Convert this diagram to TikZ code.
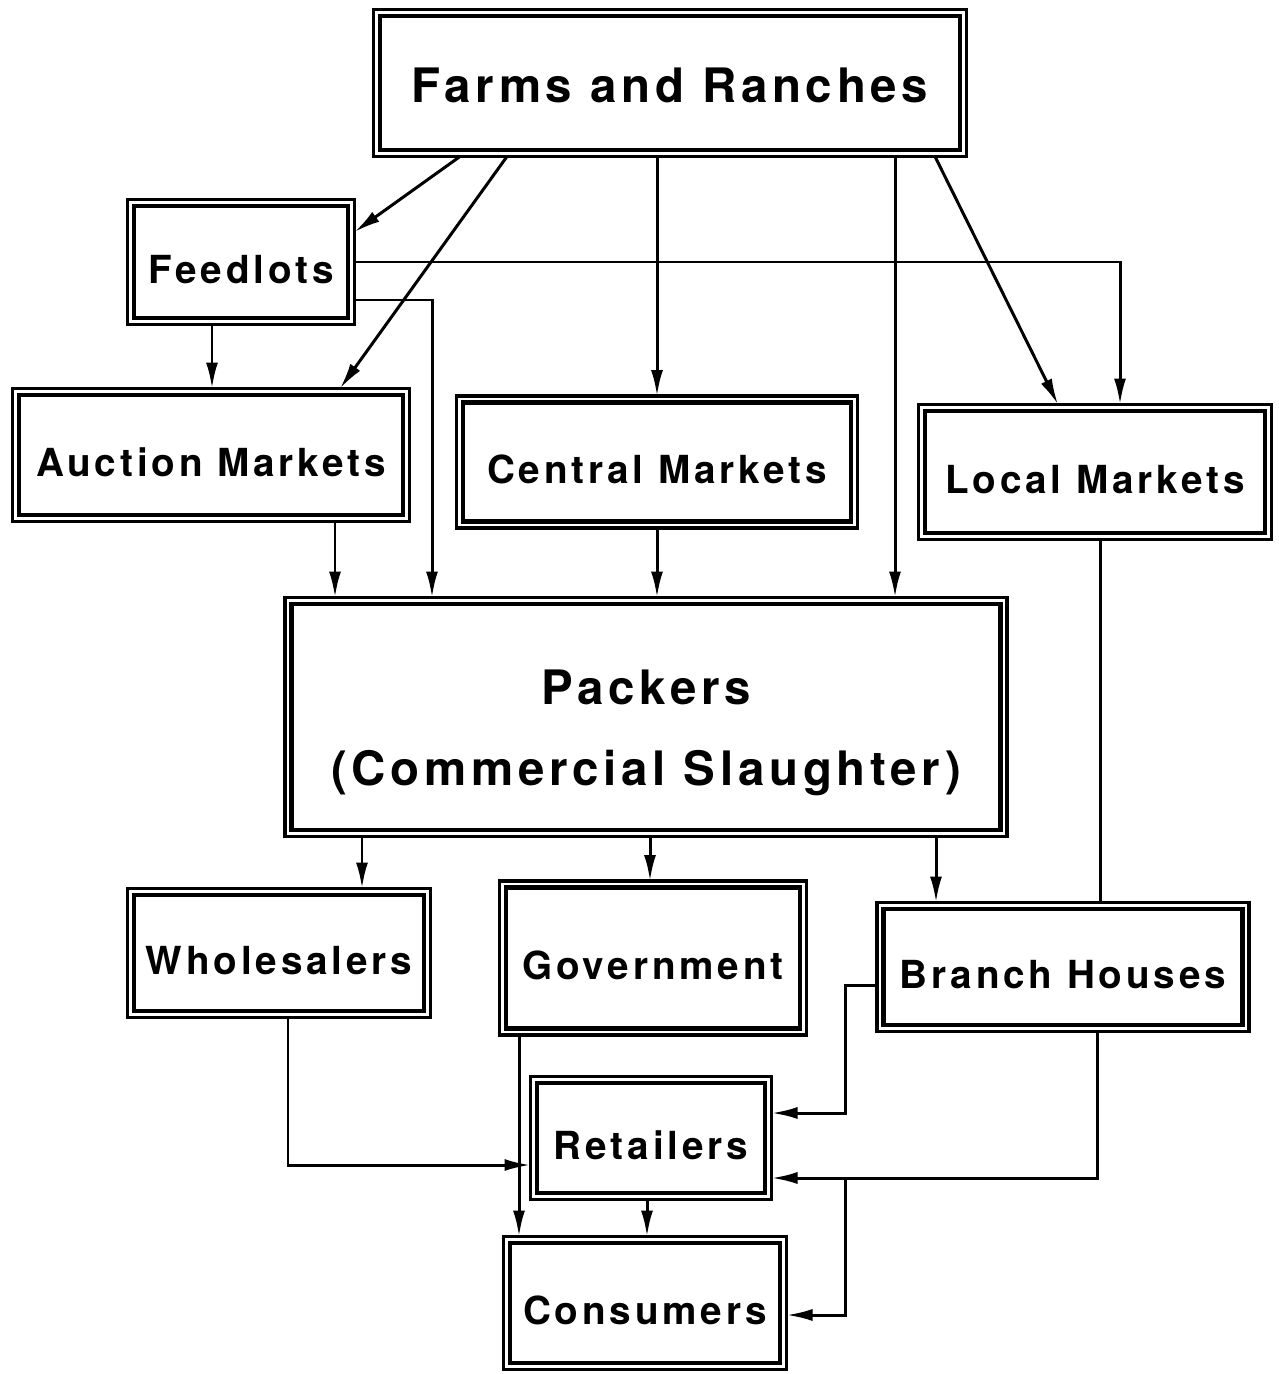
\documentclass[tikz,border=0pt]{standalone}
\usepackage{fontspec}
\setmainfont{TeX Gyre Heros}[LetterSpace=10]
\usetikzlibrary{arrows.meta}
\tikzset{
  box/.style={draw, line width=1.4pt, outer sep=0.065cm, align=center,
    text height=12.5pt, text depth=0pt,
    font=\fontsize{11}{13}\selectfont\bfseries},
  bigbox/.style={box, font=\fontsize{13.5}{23}\selectfont\bfseries},
  outerframe/.style={line width=0.9pt},
  wire/.style={line width=0.85pt},
  link/.style={wire, -{Latex[length=2.6mm,width=1.2mm]}}
}

\begin{document}
\begin{tikzpicture}
\useasboundingbox (0,0) rectangle (12.78,-13.74);
\node[bigbox, text height=10.9pt, minimum width=5.8cm, minimum height=1.34cm] (farms) at (6.70,-0.83) {Farms and Ranches};
\node[box, minimum width=2.14cm, minimum height=1.12cm] (feed) at (2.41,-2.62) {Feedlots};
\node[box, minimum width=3.84cm, minimum height=1.2cm] (auction) at (2.11,-4.55) {Auction Markets};
\node[box, minimum width=3.88cm, minimum height=1.19cm] (central) at (6.57,-4.62) {Central Markets};
\node[box, minimum width=3.4cm, minimum height=1.22cm] (local) at (10.95,-4.72) {Local Markets};
\node[bigbox, text height=38.7pt, text depth=0pt, minimum width=7.09cm, minimum height=2.26cm] (packers) at (6.46,-7.17) {Packers\\(Commercial Slaughter)};
\node[box, minimum width=2.9cm, minimum height=1.16cm] (whole) at (2.79,-9.53) {Wholesalers};
\node[box, minimum width=2.94cm, minimum height=1.41cm] (gov) at (6.53,-9.58) {Government};
\node[box, minimum width=3.59cm, minimum height=1.16cm] (branch) at (10.63,-9.67) {Branch Houses};
\node[box, minimum width=2.28cm, minimum height=1.1cm] (retail) at (6.51,-11.38) {Retailers};
\node[box, minimum width=2.7cm, minimum height=1.2cm] (cons) at (6.45,-13.03) {Consumers};
\foreach \n in {farms,feed,auction,central,local,packers,whole,gov,branch,retail,cons}
  \draw[outerframe] (\n.north west) rectangle (\n.south east);

\draw[link] ([xshift=-2.1cm]farms.south) -- ([yshift=0.3cm]feed.east);
\draw[link] ([xshift=-1.63cm]farms.south) -- ([xshift=1.29cm]auction.north);
\draw[link] (farms.south -| central.north) -- (central.north);
\draw[link] ([xshift=2.49cm]packers.north |- farms.south) -- ([xshift=2.49cm]packers.north);
\draw[link] ([xshift=2.65cm]farms.south) -- ([xshift=-0.37cm]local.north);
\draw[link] (feed.east) -| ([xshift=0.25cm]local.north);
\draw[link] ([yshift=-0.38cm]feed.east) -| ([xshift=-2.14cm]packers.north);
\draw[link] ([xshift=-0.29cm]feed.south) -- ([xshift=-0.29cm]feed.south |- auction.north);
\draw[link] ([xshift=1.24cm]auction.south) -- ([xshift=1.24cm]auction.south |- packers.north);
\draw[link] (central.south) -- (central.south |- packers.north);
\draw[wire] ([xshift=0.05cm]local.south) -- ([xshift=0.05cm]local.south |- branch.north);
\draw[link] ([xshift=-2.84cm]packers.south) -- ([xshift=-2.84cm]packers.south |- whole.north);
\draw[link] ([xshift=0.04cm]packers.south) -- ([xshift=0.04cm]packers.south |- gov.north);
\draw[link] ([xshift=2.9cm]packers.south) -- ([xshift=2.9cm]packers.south |- branch.north);
\draw[link] ([xshift=0.09cm]whole.south) |- ([yshift=-0.27cm]retail.west);
\draw[link] ([xshift=-1.34cm]gov.south) -- ([xshift=-1.34cm]gov.south |- cons.north);
\draw[link] ([yshift=-0.18cm]branch.west) -- ++(-0.32,0) |- ([yshift=0.25cm]retail.east);
\draw[link] ([xshift=0.34cm]branch.south) |- ([yshift=-0.4cm]retail.east);
\coordinate (split) at (8.45,-11.78);
\draw[link] (split) |- ([yshift=-0.12cm]cons.east);
\draw[link] ([xshift=-0.04cm]retail.south) -- ([xshift=-0.04cm]retail.south |- cons.north);
\end{tikzpicture}
\end{document}
